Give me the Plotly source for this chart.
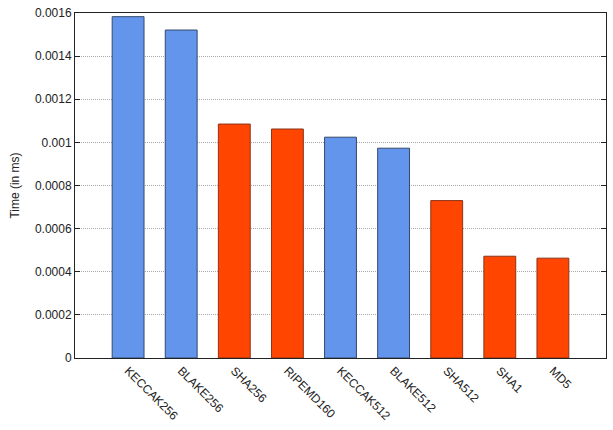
import plotly.graph_objects as go

categories = ["KECCAK256", "BLAKE256", "SHA256", "RIPEMD160", "KECCAK512",
              "BLAKE512", "SHA512", "SHA1", "MD5"]
sha3_names = ["KECCAK256", "BLAKE256", "KECCAK512", "BLAKE512"]
sha3_times = [0.001583, 0.001521, 0.001024, 0.000973]
classic_names = ["SHA256", "RIPEMD160", "SHA512", "SHA1", "MD5"]
classic_times = [0.001085, 0.001062, 0.000730, 0.000472, 0.000463]
y_ticks = [0, 0.0002, 0.0004, 0.0006, 0.0008, 0.001, 0.0012, 0.0014, 0.0016]
y_tick_labels = ["0", "0.0002", "0.0004", "0.0006", "0.0008", "0.001", "0.0012", "0.0014", "0.0016"]

fig = go.Figure()
fig.add_trace(go.Bar(x=sha3_names, y=sha3_times, width=0.6,
                     marker=dict(color="#6495ED", line=dict(color="#34496b", width=1))))
fig.add_trace(go.Bar(x=classic_names, y=classic_times, width=0.6,
                     marker=dict(color="#FF4500", line=dict(color="#8a3418", width=1))))

font = dict(family="Liberation Sans, Arial, sans-serif", size=12, color="#222222")
fig.update_layout(
    width=613, height=430,
    margin=dict(l=75, r=6, t=9, b=72),
    barmode="overlay",
    showlegend=False,
    plot_bgcolor="white", paper_bgcolor="white",
    font=font,
    xaxis=dict(type="category", categoryorder="array", categoryarray=categories,
               range=[-1, 9], tickangle=45, showgrid=False, ticks="",
               showline=True, linecolor="#222222", linewidth=1, mirror=True,
               tickfont=font),
    yaxis=dict(range=[0, 0.0016], tickvals=y_ticks, ticktext=y_tick_labels,
               showgrid=True, gridcolor="#a8a8a8", griddash="1px,1px", gridwidth=1,
               ticks="inside", ticklen=5, tickcolor="#222222",
               showline=True, linecolor="#222222", linewidth=1, mirror="ticks",
               zeroline=False, tickfont=font,
               title=dict(text="Time (in ms)", font=font, standoff=12)),
)
fig.write_html("out.html")
